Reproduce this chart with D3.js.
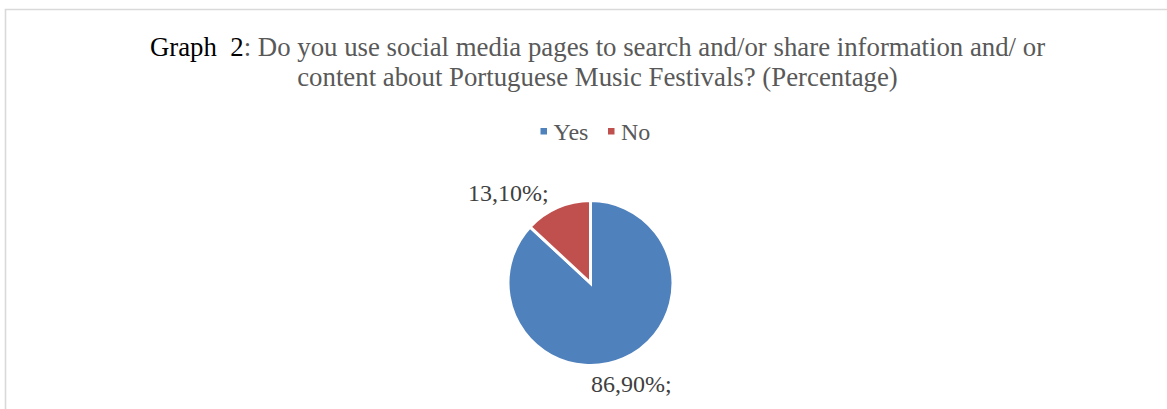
<!DOCTYPE html>
<html>
<head>
<meta charset="utf-8">
<script src="https://cdn.jsdelivr.net/npm/d3@7"></script>
<style>
  html, body { margin: 0; padding: 0; background: #fff; }
  svg { display: block; }
  svg text { font-family: 'Liberation Serif', Tinos, 'Times New Roman', 'Nimbus Roman', 'DejaVu Serif', serif; }
</style>
</head>
<body>
<svg id="chart" width="1167" height="409"></svg>
<script>
// Survey answers (percent of respondents)
const categories = ["Yes", "No"];
const values = [86.9, 13.1];
const valueLabels = ["86,90%;", "13,10%;"];
const titlePrefix = "Graph  2";
const titleLines = [
  "Do you use social media pages to search and/or share information and/ or",
  "content about Portuguese Music Festivals? (Percentage)"
];

const W = 1167, H = 409;
const svg = d3.select("#chart");

// chart frame (clipped on the right and bottom)
svg.append("path")
  .attr("d", `M5.5,${H + 2} V9.5 H${W + 2}`)
  .attr("fill", "none")
  .attr("stroke", "#d9d9d9")
  .attr("stroke-width", 1.6);

// title
const titleX = 597.5, titleSize = 26.8;
const t1 = svg.append("text")
  .attr("x", titleX).attr("y", 56)
  .attr("text-anchor", "middle")
  .attr("font-size", titleSize)
  .attr("fill", "#595959")
  .style("white-space", "pre");
t1.append("tspan").attr("fill", "#000").text(titlePrefix);
t1.append("tspan").text(": " + titleLines[0]);
svg.append("text")
  .attr("x", titleX).attr("y", 85.5)
  .attr("text-anchor", "middle")
  .attr("font-size", titleSize)
  .attr("fill", "#595959")
  .text(titleLines[1]);

const color = d3.scaleOrdinal().domain(categories).range(["#4f81bd", "#c0504d"]);

// legend
const legend = svg.append("g").attr("transform", "translate(540.5,140)");
const legendX = d3.scaleOrdinal().domain(categories).range([0, 67.5]);
categories.forEach(c => {
  const g = legend.append("g").attr("transform", `translate(${legendX(c)},0)`);
  g.append("rect").attr("x", 0).attr("y", -12).attr("width", 6.5).attr("height", 6.5)
    .attr("fill", color(c));
  g.append("text").attr("x", 13).attr("y", 0)
    .attr("font-size", 24).attr("fill", "#595959").text(c);
});

// pie
const cx = 590.5, cy = 283, r = 82.5;
const pie = d3.pie().sort(null).value(d => d.value);
const arcs = pie(categories.map((c, i) => ({ key: c, value: values[i], label: valueLabels[i] })));
const arc = d3.arc().innerRadius(0).outerRadius(r);
const gPie = svg.append("g").attr("transform", `translate(${cx},${cy})`);
gPie.selectAll("path").data(arcs).join("path")
  .attr("d", arc)
  .attr("fill", d => color(d.data.key))
  .attr("stroke", "#fff")
  .attr("stroke-width", 3)
  .attr("stroke-linejoin", "miter");

// data labels outside the slices
const labelArc = d3.arc().innerRadius(r + 12).outerRadius(r + 12);
gPie.selectAll("text.lbl").data(arcs).join("text")
  .attr("class", "lbl")
  .attr("font-size", 24)
  .attr("fill", "#404040")
  .each(function (d) {
    const [x, y] = labelArc.centroid(d);
    const sel = d3.select(this);
    if (y < 0) {
      // upper label: right-aligned, sitting above and left of the slice
      sel.attr("x", x - 4).attr("y", y + 4.5).attr("text-anchor", "end");
    } else {
      sel.attr("x", x + 3).attr("y", y + 22.5).attr("text-anchor", "middle");
    }
  })
  .text(d => d.data.label);
</script>
</body>
</html>
